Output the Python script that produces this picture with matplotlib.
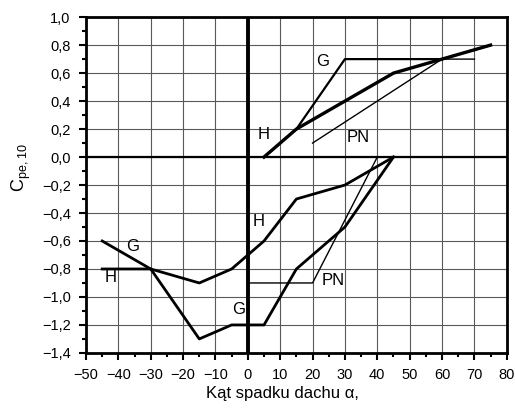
import numpy as np
import matplotlib
matplotlib.use('Agg')
import matplotlib.pyplot as plt
from matplotlib.ticker import MultipleLocator, FuncFormatter

plt.rcParams['font.family'] = ['Liberation Sans', 'DejaVu Sans']
plt.rcParams['mathtext.default'] = 'regular'

# Upper (positive) curves
g_up_x = [5, 15, 30, 60, 75]
g_up_y = [0.0, 0.2, 0.7, 0.7, 0.8]
h_up_x = [5, 15, 45, 60, 75]
h_up_y = [0.0, 0.2, 0.6, 0.7, 0.8]
pn_up_x = [20, 60, 70]
pn_up_y = [0.1, 0.7, 0.7]

# Lower (negative) curves
g_lo_x = [-45, -30, -15, -5, 5, 15, 30, 45]
g_lo_y = [-0.6, -0.8, -1.3, -1.2, -1.2, -0.8, -0.5, 0.0]
h_lo_x = [-45, -30, -15, -5, 5, 15, 30, 45]
h_lo_y = [-0.8, -0.8, -0.9, -0.8, -0.6, -0.3, -0.2, 0.0]
pn_lo_x = [0, 20, 40]
pn_lo_y = [-0.9, -0.9, 0.0]

# Curve labels: (text, x, y)
labels = [('G', 23, 0.68), ('H', 5, 0.16), ('PN', 34, 0.14),
          ('G', -35.5, -0.64), ('H', -42.5, -0.86), ('G', -2.8, -1.09),
          ('H', 3.2, -0.46), ('PN', 26.5, -0.88)]

fig = plt.figure(figsize=(5.15, 4.08), dpi=100)
ax = fig.add_axes([0.167, 0.135, 0.817, 0.823])

ax.set_xlim(-50, 80)
ax.set_ylim(-1.4, 1.0)
ax.xaxis.set_major_locator(MultipleLocator(10))
ax.xaxis.set_minor_locator(MultipleLocator(5))
ax.yaxis.set_major_locator(MultipleLocator(0.2))
ax.yaxis.set_minor_locator(MultipleLocator(0.1))

ax.xaxis.set_major_formatter(FuncFormatter(lambda v, p: f'{v:.0f}'.replace('-', '\u2212')))
ax.yaxis.set_major_formatter(FuncFormatter(
    lambda v, p: f'{v:.1f}'.replace('-', '\u2212').replace('.', ',').replace('\u22120,0', '0,0')))

ax.grid(True, which='major', color='0.35', linewidth=0.8)
ax.set_axisbelow(True)
ax.axhline(0, color='black', linewidth=1.6)
ax.axvline(0, color='black', linewidth=2.8)

for s in ax.spines.values():
    s.set_linewidth(2.0)
ax.tick_params(which='major', direction='out', length=5, width=1.5, labelsize=10.5, pad=6)
ax.tick_params(which='minor', direction='out', length=3, width=1.5)

ax.plot(pn_up_x, pn_up_y, color='black', linewidth=1.0)
ax.plot(g_up_x, g_up_y, color='black', linewidth=1.6)
ax.plot(h_up_x, h_up_y, color='black', linewidth=2.4)
ax.plot(pn_lo_x, pn_lo_y, color='black', linewidth=1.0)
ax.plot(g_lo_x, g_lo_y, color='black', linewidth=2.0)
ax.plot(h_lo_x, h_lo_y, color='black', linewidth=2.0)

for txt, x, y in labels:
    ax.text(x, y, txt, fontsize=12, ha='center', va='center')

ax.set_xlabel('Kąt spadku dachu α,', fontsize=12, labelpad=4)
ax.xaxis.set_label_coords(0.468, -0.1)
ax.set_ylabel('$C_{pe,10}$', fontsize=13)
ax.yaxis.set_label_coords(-0.125, 0.553)

fig.savefig('out.png', dpi=100)
